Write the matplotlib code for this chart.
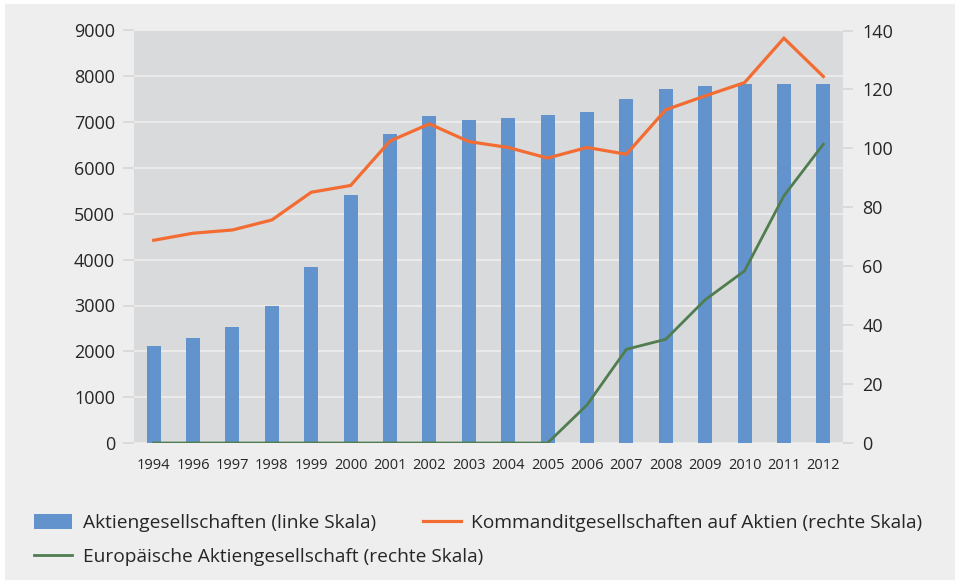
import matplotlib
matplotlib.use("Agg")
import matplotlib.pyplot as plt
from matplotlib.patches import Rectangle
import numpy as np

plt.rcParams['font.family'] = ['Open Sans', 'DejaVu Sans']

years = ['1994', '1996', '1997', '1998', '1999', '2000', '2001', '2002', '2003',
         '2004', '2005', '2006', '2007', '2008', '2009', '2010', '2011', '2012']
ag = [2120, 2290, 2530, 2990, 3840, 5410, 6740, 7140, 7050,
      7095, 7160, 7225, 7510, 7725, 7790, 7835, 7835, 7835]
kgaa = [68.8, 71.2, 72.3, 75.7, 85.1, 87.4, 102.5, 108.3, 102.3,
        100.3, 96.7, 100.3, 98.0, 113.1, 117.8, 122.3, 137.4, 124.4]
se = [0, 0, 0, 0, 0, 0, 0, 0, 0, 0, 0, 12.9, 31.8, 35.2, 48.6, 58.4, 83.9, 101.4]

label_ag = 'Aktiengesellschaften (linke Skala)'
label_kgaa = 'Kommanditgesellschaften auf Aktien (rechte Skala)'
label_se = 'Europäische Aktiengesellschaft (rechte Skala)'

W, H = 957, 582
fig = plt.figure(figsize=(W / 100, H / 100), dpi=100)
fig.patch.set_facecolor('white')
fig.patches.append(Rectangle((5 / W, 2 / H), (955 - 5) / W, (578 - 2) / H,
                             transform=fig.transFigure, facecolor='#eeeeee',
                             edgecolor='none', zorder=-10))

left, right, top, bottom = 134, 843, 30.5, 443
ax = fig.add_axes([left / W, 1 - bottom / H, (right - left) / W, (bottom - top) / H])
ax.set_facecolor('#d9dadc')
x = np.arange(len(years))
bars = ax.bar(x, ag, width=0.355, color='#6293cd', zorder=3, label=label_ag)
ax.set_xlim(-0.5, len(years) - 0.5)
ax.set_ylim(0, 9000)
ax.set_yticks(np.arange(0, 9001, 1000))
ax.set_xticks(x)
ax.set_xticklabels(years)
ax.grid(axis='y', color='#eeeeee', linewidth=1.2, zorder=1)
ax.set_axisbelow(True)
for s in ax.spines.values():
    s.set_visible(False)
ax.tick_params(axis='y', length=8, width=1.1, color='#d4d4d4', pad=5.5,
               labelsize=13, labelcolor='#262626')
ax.tick_params(axis='x', length=0, pad=10.5, labelsize=10.5, labelcolor='#262626')

ax2 = ax.twinx()
ax2.set_ylim(0, 140)
ax2.set_yticks(np.arange(0, 141, 20))
l1, = ax2.plot(x, kgaa, color='#f36c32', linewidth=2.3, label=label_kgaa,
               solid_joinstyle='miter')
l2, = ax2.plot(x, se, color='#507d50', linewidth=2.0, label=label_se)
for s in ax2.spines.values():
    s.set_visible(False)
ax2.tick_params(axis='y', length=7.5, width=1.1, color='#d4d4d4', pad=6.5,
                labelsize=13, labelcolor='#262626')

fs = 13.8
common = dict(frameon=False, fontsize=fs, handlelength=1.98, handleheight=0.85,
              handletextpad=0.56, borderaxespad=0, borderpad=0)
legA = fig.legend([bars, l2], [label_ag, label_se], loc='center left',
                  bbox_to_anchor=(34 / W, 1 - 540 / H), labelspacing=0.82, **common)
legB = fig.legend([l1], [label_kgaa], loc='center left',
                  bbox_to_anchor=(422.7 / W, 1 - 522.7 / H), **common)
for lg in (legA, legB):
    for t in lg.get_texts():
        t.set_color('#262626')

fig.savefig('out.png', dpi=100, facecolor=fig.get_facecolor())
